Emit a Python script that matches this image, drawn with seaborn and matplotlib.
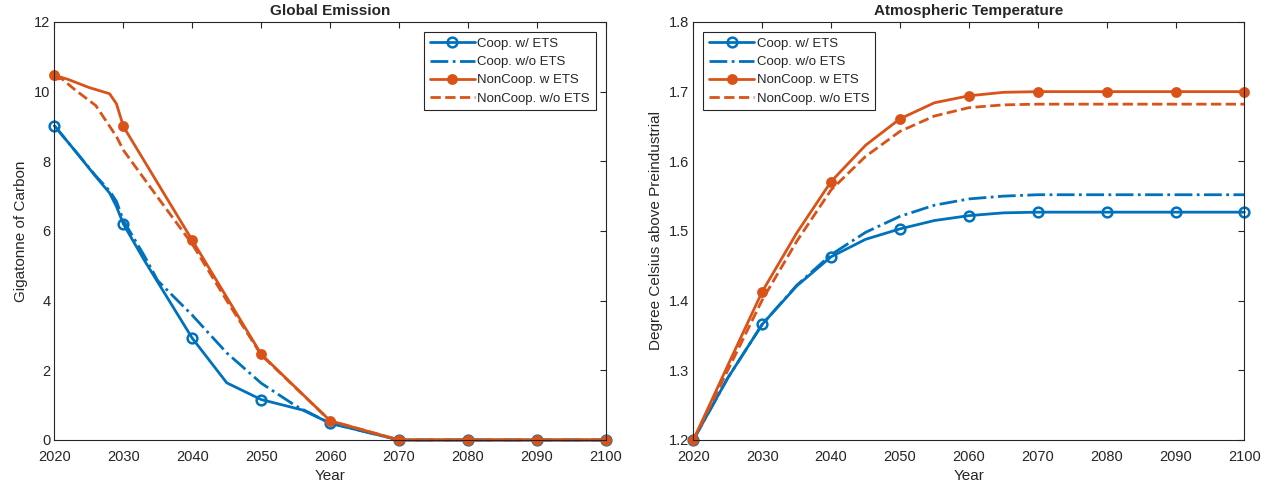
import matplotlib
matplotlib.use('Agg')
import matplotlib.pyplot as plt
import seaborn as sns

# Global emission (GtC)
coop_ets_years = [2020, 2023, 2026, 2028, 2029, 2030, 2033, 2040, 2045, 2050, 2056, 2060, 2070, 2080, 2090, 2100]
coop_ets_emis = [9.02, 8.30, 7.56, 7.09, 6.70, 6.20, 5.17, 2.92, 1.64, 1.16, 0.86, 0.48, 0.0, 0.0, 0.0, 0.0]

coop_noets_years = [2020, 2023, 2026, 2028, 2029, 2030, 2033, 2035, 2040, 2045, 2050, 2055, 2060, 2070, 2080, 2090, 2100]
coop_noets_emis = [9.02, 8.30, 7.58, 7.15, 6.85, 6.30, 5.30, 4.57, 3.58, 2.50, 1.63, 0.98, 0.48, 0.0, 0.0, 0.0, 0.0]

noncoop_ets_years = [2020, 2022, 2025, 2028, 2029, 2030, 2040, 2050, 2060, 2070, 2080, 2090, 2100]
noncoop_ets_emis = [10.47, 10.35, 10.12, 9.94, 9.65, 9.00, 5.73, 2.46, 0.55, 0.0, 0.0, 0.0, 0.0]

noncoop_noets_years = [2020, 2021, 2023, 2026, 2029, 2030, 2035, 2040, 2045, 2050, 2060, 2070, 2080, 2090, 2100]
noncoop_noets_emis = [10.35, 10.38, 10.05, 9.60, 8.71, 8.32, 6.96, 5.62, 4.00, 2.44, 0.55, 0.0, 0.0, 0.0, 0.0]

# Atmospheric temperature (deg C above preindustrial)
temp_years = [2020, 2025, 2030, 2035, 2040, 2045, 2050, 2055, 2060, 2065, 2070, 2080, 2090, 2100]
coop_ets_temp = [1.200, 1.289, 1.366, 1.421, 1.463, 1.488, 1.503, 1.515, 1.522, 1.526, 1.527, 1.527, 1.527, 1.527]
coop_noets_temp = [1.200, 1.289, 1.366, 1.422, 1.466, 1.498, 1.521, 1.537, 1.546, 1.550, 1.552, 1.552, 1.552, 1.552]
noncoop_ets_temp = [1.200, 1.307, 1.413, 1.497, 1.571, 1.623, 1.661, 1.684, 1.694, 1.699, 1.700, 1.700, 1.700, 1.700]
noncoop_noets_temp = [1.200, 1.300, 1.401, 1.485, 1.559, 1.607, 1.643, 1.665, 1.677, 1.681, 1.682, 1.682, 1.682, 1.682]

labels = ['Coop. w/ ETS', 'Coop. w/o ETS', 'NonCoop. w ETS', 'NonCoop. w/o ETS']
blue = '#0072BD'
orange = '#D95319'
axcol = '0.15'

sns.set_theme(style='white')
plt.rcParams['font.family'] = ['Liberation Sans', 'DejaVu Sans']
plt.rcParams['text.color'] = axcol
plt.rcParams['axes.labelcolor'] = axcol
plt.rcParams['xtick.color'] = axcol
plt.rcParams['ytick.color'] = axcol

fig = plt.figure(figsize=(12.75, 4.88), dpi=100)
ax1 = fig.add_axes([0.0427, 0.0984, 0.4325, 0.8566])
ax2 = fig.add_axes([0.5438, 0.0984, 0.4322, 0.8566])


def decade_idx(years):
    return [i for i, y in enumerate(years) if y % 10 == 0]


def draw(ax, years, vals, label, color, ls, marker=None, filled=False):
    kw = dict(x=years, y=vals, ax=ax, color=color, linestyle=ls, linewidth=2,
              label=label, clip_on=False)
    if marker:
        kw.update(marker='o', markevery=decade_idx(years),
                  markersize=6 if filled else 7,
                  markeredgecolor=color, markeredgewidth=1.8,
                  markerfacecolor=color if filled else 'none')
    sns.lineplot(**kw)


draw(ax1, coop_ets_years, coop_ets_emis, labels[0], blue, '-', marker=True)
draw(ax1, coop_noets_years, coop_noets_emis, labels[1], blue, '-.')
draw(ax1, noncoop_ets_years, noncoop_ets_emis, labels[2], orange, '-', marker=True, filled=True)
draw(ax1, noncoop_noets_years, noncoop_noets_emis, labels[3], orange, '--')

draw(ax2, temp_years, coop_ets_temp, labels[0], blue, '-', marker=True)
draw(ax2, temp_years, coop_noets_temp, labels[1], blue, '-.')
draw(ax2, temp_years, noncoop_ets_temp, labels[2], orange, '-', marker=True, filled=True)
draw(ax2, temp_years, noncoop_noets_temp, labels[3], orange, '--')

for ax in (ax1, ax2):
    ax.set_xlim(2020, 2100)
    ax.set_xticks(range(2020, 2101, 10))
    ax.tick_params(direction='in', top=True, right=True, length=4, width=0.8,
                   labelsize=10.5)
    ax.tick_params(axis='x', pad=7)
    ax.tick_params(axis='y', pad=3)
    for s in ax.spines.values():
        s.set_visible(True)
        s.set_color(axcol)
        s.set_linewidth(0.8)
    ax.set_xlabel('Year', fontsize=11, labelpad=4)

ax1.set_ylim(0, 12)
ax1.set_yticks(range(0, 13, 2))
ax1.set_ylabel('Gigatonne of Carbon', fontsize=11, labelpad=4)
ax1.set_title('Global Emission', fontsize=11, fontweight='bold', pad=5)

ax2.set_ylim(1.2, 1.8)
ax2.set_yticks([1.2, 1.3, 1.4, 1.5, 1.6, 1.7, 1.8])
ax2.set_yticklabels(['1.2', '1.3', '1.4', '1.5', '1.6', '1.7', '1.8'])
ax2.set_ylabel('Degree Celsius above Preindustrial', fontsize=11, labelpad=4)
ax2.set_title('Atmospheric Temperature', fontsize=11, fontweight='bold', pad=5)

leg_kw = dict(fontsize=9.5, frameon=True, fancybox=False, framealpha=1,
              edgecolor=axcol, handlelength=3.4, handletextpad=0.2,
              labelspacing=0.45, borderpad=0.45, borderaxespad=0.75)
l1 = ax1.legend(loc='upper right', **leg_kw)
l2 = ax2.legend(loc='upper left', **leg_kw)
for lg in (l1, l2):
    lg.get_frame().set_linewidth(0.8)

fig.savefig('out.png', dpi=100)
